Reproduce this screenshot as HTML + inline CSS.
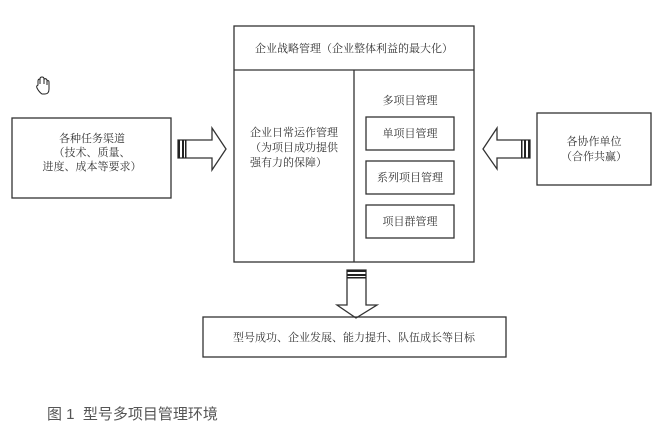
<!DOCTYPE html>
<html><head><meta charset="utf-8"><style>
html,body{margin:0;padding:0;background:#fff;}
svg{display:block;}
text{font-family:"Liberation Serif","Noto Serif CJK SC",serif;fill:#333;font-size:11px;}
</style></head><body>
<svg width="671" height="438" viewBox="0 0 671 438" xmlns="http://www.w3.org/2000/svg">
<g fill="none" stroke="#333" stroke-width="1.3">
<rect x="234" y="26" width="240" height="236"/>
<line x1="234" y1="70" x2="474" y2="70"/>
<line x1="354" y1="70" x2="354" y2="262"/>
<rect x="366" y="117" width="88" height="33"/>
<rect x="366" y="161" width="88" height="33"/>
<rect x="366" y="205" width="88" height="33"/>
<rect x="12" y="118" width="159" height="80"/>
<rect x="537" y="113" width="114" height="72"/>
<rect x="203" y="317" width="303" height="40"/>
<polygon points="178,140 212,140 212,128 226,149 212,170 212,158 178,158"/>
<polygon points="530,140 497,140 497,128 483,149 497,169 497,158 530,158"/>
<polygon points="347,270 366,270 366,305 377,305 356,318 337,305 347,305"/>
</g>
<g fill="#222">
<rect x="178" y="140" width="2" height="18"/><rect x="182" y="140" width="2" height="18"/><rect x="185" y="140" width="1.5" height="18"/>
<rect x="528" y="140" width="2" height="18"/><rect x="524" y="140" width="2" height="18"/><rect x="521" y="140" width="1.5" height="18"/>
<rect x="347" y="270" width="19" height="2"/><rect x="347" y="274" width="19" height="2"/><rect x="347" y="277" width="19" height="1.5"/>
</g>
<path d="M38,85 L38,81 Q38,79 40,79 L40,84 L40,79 Q40,77 42,77 Q44,77 44,79 L44,84 L44,79 Q46,78 47,80 L47,85 L47,81 Q49,80 49,82 L49,89 Q49,94 45,94 L42,94 Q39,92 37,88 Q36,86 38,85 Z" fill="#fff" stroke="#222" stroke-width="1"/>
<text x="354" y="52" text-anchor="middle">企业战略管理（企业整体利益的最大化）</text>
<text x="250" y="136">企业日常运作管理</text>
<text x="250" y="151">（为项目成功提供</text>
<text x="250" y="166">强有力的保障）</text>
<text x="410" y="104" text-anchor="middle">多项目管理</text>
<text x="410" y="137" text-anchor="middle">单项目管理</text>
<text x="410" y="181" text-anchor="middle">系列项目管理</text>
<text x="410" y="225" text-anchor="middle">项目群管理</text>
<text x="92" y="142" text-anchor="middle">各种任务渠道</text>
<text x="92" y="156" text-anchor="middle">（技术、质量、</text>
<text x="92" y="170" text-anchor="middle">进度、成本等要求）</text>
<text x="594" y="145" text-anchor="middle">各协作单位</text>
<text x="594" y="160" text-anchor="middle">（合作共赢）</text>
<text x="354" y="341" text-anchor="middle">型号成功、企业发展、能力提升、队伍成长等目标</text>
<text x="47" y="419" xml:space="preserve" style="font-family:'Liberation Sans','Noto Sans CJK SC',sans-serif;font-size:15px;fill:#555">图 1  型号多项目管理环境</text>
</svg>
</body></html>
